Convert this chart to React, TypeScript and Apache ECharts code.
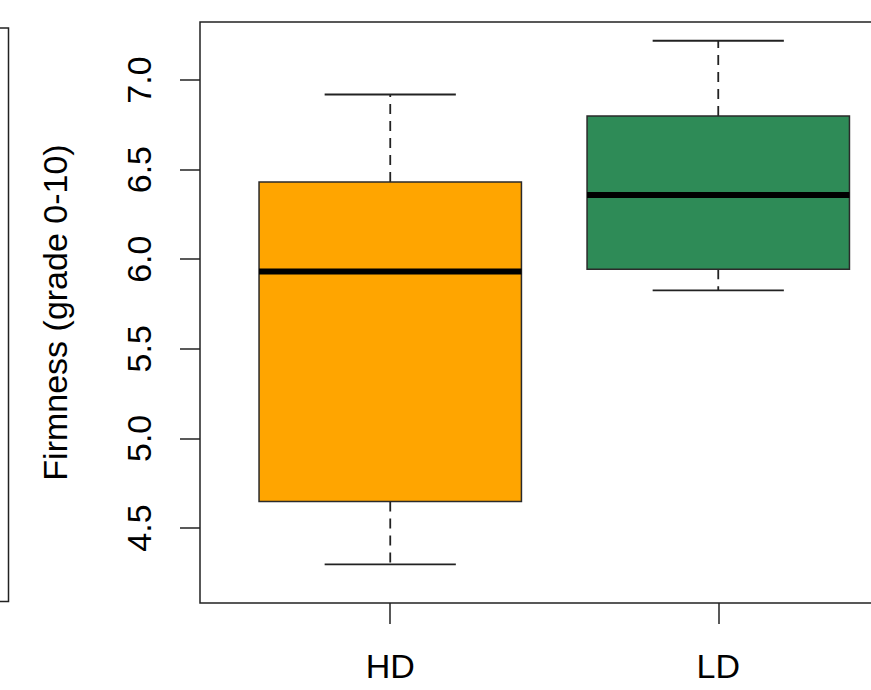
import React, { useEffect, useRef } from "react";
import * as echarts from "echarts";

const categories = ["HD", "LD"];
const positions = [1, 2];
const minValues = [4.297, 5.826];
const q1Values = [4.648, 5.944];
const medianValues = [5.931, 6.358];
const q3Values = [6.431, 6.799];
const maxValues = [6.919, 7.219];
const boxColors = ["#FFA500", "#2E8B57"];
const yTicks = [4.5, 5.0, 5.5, 6.0, 6.5, 7.0];
const yAxisTitle = "Firmness (grade 0-10)";

const FONT = "'Liberation Sans', Arial, Helvetica, sans-serif";

export default function App() {
  const ref = useRef<HTMLDivElement>(null);

  useEffect(() => {
    if (!ref.current) return;
    const chart = echarts.init(ref.current, null, { renderer: "svg" });

    const data = positions.map((p, i) => [
      p,
      minValues[i],
      q1Values[i],
      medianValues[i],
      q3Values[i],
      maxValues[i],
      i,
    ]);

    const renderItem = (params: any, api: any) => {
      const x = api.value(0);
      const mn = api.value(1);
      const q1 = api.value(2);
      const md = api.value(3);
      const q3 = api.value(4);
      const mx = api.value(5);
      const idx = api.value(6);
      const half = api.size([0.4, 0])[0];
      const capHalf = api.size([0.2, 0])[0];
      const pMin = api.coord([x, mn]);
      const pQ1 = api.coord([x, q1]);
      const pMd = api.coord([x, md]);
      const pQ3 = api.coord([x, q3]);
      const pMax = api.coord([x, mx]);
      const cx = pMd[0];
      const dashStyle = { stroke: "#222", lineWidth: 1.8, lineDash: [10, 7], fill: null };
      const solid = { stroke: "#222", lineWidth: 1.8, fill: null };
      return {
        type: "group",
        children: [
          { type: "line", shape: { x1: cx, y1: pQ3[1], x2: cx, y2: pMax[1] }, style: dashStyle },
          { type: "line", shape: { x1: cx, y1: pQ1[1], x2: cx, y2: pMin[1] }, style: dashStyle },
          { type: "line", shape: { x1: cx - capHalf, y1: pMax[1], x2: cx + capHalf, y2: pMax[1] }, style: solid },
          { type: "line", shape: { x1: cx - capHalf, y1: pMin[1], x2: cx + capHalf, y2: pMin[1] }, style: solid },
          {
            type: "rect",
            shape: { x: cx - half, y: pQ3[1], width: half * 2, height: pQ1[1] - pQ3[1] },
            style: { fill: boxColors[idx], stroke: "#2a2a2a", lineWidth: 1.5 },
          },
          { type: "line", shape: { x1: cx - half, y1: pMd[1], x2: cx + half, y2: pMd[1] }, style: { stroke: "#000", lineWidth: 6 } },
        ],
      };
    };

    chart.setOption({
      animation: false,
      backgroundColor: "#ffffff",
      textStyle: { fontFamily: FONT },
      grid: {
        left: 200,
        top: 22,
        width: 708.5,
        height: 581,
        show: true,
        borderColor: "#222",
        borderWidth: 1.5,
        backgroundColor: "transparent",
        containLabel: false,
      },
      xAxis: {
        type: "value",
        min: 0.42,
        max: 2.58,
        axisLine: { show: false },
        splitLine: { show: false },
        axisTick: {
          show: true,
          customValues: positions,
          length: 21,
          lineStyle: { color: "#222", width: 1.5 },
        },
        axisLabel: {
          show: true,
          customValues: positions,
          formatter: (v: number) => categories[Math.round(v) - 1] ?? "",
          fontSize: 34,
          color: "#000",
          fontFamily: FONT,
          margin: 46,
        },
      },
      yAxis: {
        type: "value",
        min: 4.0815,
        max: 7.3237,
        axisLine: { show: false },
        splitLine: { show: false },
        axisTick: {
          show: true,
          customValues: yTicks,
          length: 20,
          lineStyle: { color: "#222", width: 1.5 },
        },
        axisLabel: {
          show: true,
          customValues: yTicks,
          rotate: 90,
          formatter: (v: number) => v.toFixed(1),
          fontSize: 34,
          color: "#000",
          fontFamily: FONT,
          margin: 44,
        },
        name: yAxisTitle,
        nameLocation: "middle",
        nameGap: 128,
        nameRotate: 90,
        nameTextStyle: { fontSize: 34, color: "#000", fontFamily: FONT },
      },
      graphic: [
        {
          type: "polyline",
          shape: { points: [[-5, 28], [8.5, 28], [8.5, 601.5], [-5, 601.5]] },
          style: { stroke: "#222", lineWidth: 1.5, fill: null },
          silent: true,
        },
      ],
      series: [
        {
          type: "custom",
          renderItem,
          data,
          encode: { x: 0, y: [1, 2, 3, 4, 5] },
          clip: false,
        },
      ],
    });

    return () => chart.dispose();
  }, []);

  return (
    <div
      style={{
        position: "fixed",
        left: 0,
        top: 0,
        width: 871,
        height: 690,
        overflow: "hidden",
        background: "#fff",
      }}
    >
      <div ref={ref} style={{ width: 960, height: 690 }} />
    </div>
  );
}
